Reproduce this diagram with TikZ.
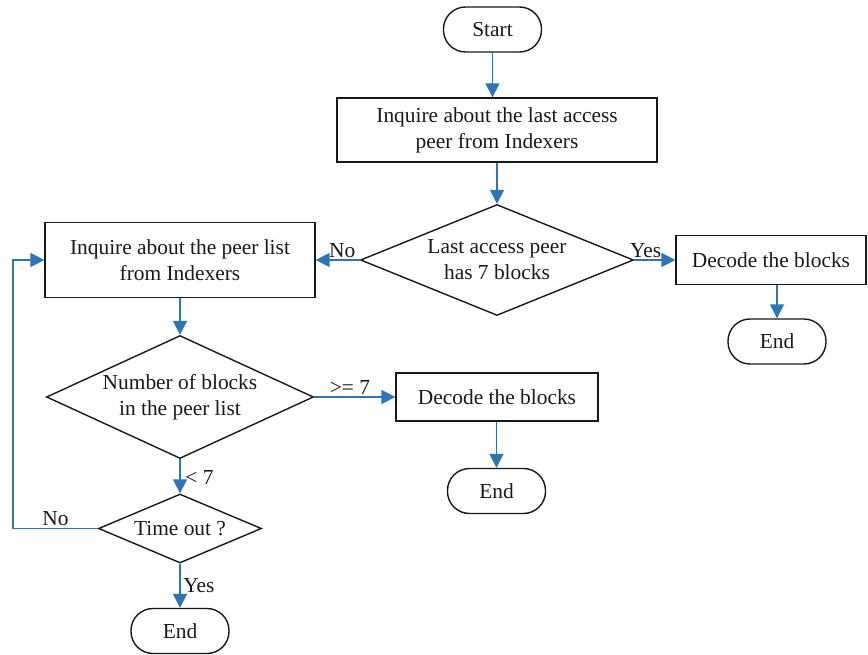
\documentclass[tikz,border=0pt]{standalone}
\usepackage{fontspec}
\setmainfont{Liberation Serif}
\usetikzlibrary{shapes.geometric,arrows.meta}
\definecolor{flowblue}{RGB}{46,117,182}
\definecolor{edgeblack}{RGB}{25,25,25}
\begin{document}
\begin{tikzpicture}[x=1pt,y=-1pt,
  every node/.style={font=\fontsize{21.4}{26}\selectfont, text=edgeblack},
  procbox/.style={draw=edgeblack, line width=1.4pt, rectangle, align=center, inner sep=0pt},
  terminal/.style={draw=edgeblack, line width=1.4pt, rectangle, rounded corners=22pt,
    minimum width=98pt, minimum height=45pt, inner sep=0pt},
  decision/.style={draw=edgeblack, line width=1.4pt, diamond, align=center, inner sep=0pt},
  flow/.style={draw=flowblue, line width=1.8pt,
    -{Triangle[length=14pt,width=14pt]}},
  lbl/.style={inner sep=1.5pt}]
\useasboundingbox (0,0) rectangle (868,655);

% main column
\node[terminal] (start) at (492.5,29.5) {Start};
\node[procbox, minimum width=320pt, minimum height=64pt] (box1) at (497,130)
  {Inquire about the last access\\peer from Indexers};
\node[decision, aspect=2.46, minimum width=273pt, minimum height=111pt] (d1) at (497,260)
  {Last access peer\\has 7 blocks};

% right branch
\node[procbox, minimum width=190pt, minimum height=49pt] (box3) at (771,260)
  {Decode the blocks};
\node[terminal] (end1) at (777,341.5) {End};

% left branch
\node[procbox, minimum width=270pt, minimum height=75pt] (box2) at (180,260)
  {Inquire about the peer list\\from Indexers};
\node[decision, aspect=2.17, minimum width=267pt, minimum height=123pt] (d2) at (180,397)
  {Number of blocks\\in the peer list};
\node[procbox, minimum width=202pt, minimum height=48pt] (box4) at (497,397)
  {Decode the blocks};
\node[terminal] (end2) at (496.5,491) {End};
\node[decision, aspect=2.36, minimum width=163pt, minimum height=69pt] (d3) at (180,528.5)
  {Time out ?};
\node[terminal] (end3) at (180,631) {End};

% retry loop corner
\coordinate (loopA) at (13,528.5);

% connectors
\draw[flow] (start.south) -- (start.south |- box1.north);
\draw[flow] (box1.south) -- (d1.north);
\draw[flow] (d1.west) -- node[lbl, above, pos=0.4] (lno1) {No} (d1.west -| box2.east);
\draw[flow] (d1.east) -- node[lbl, above, pos=0.28] (lyes1) {Yes} (d1.east -| box3.west);
\draw[flow] (end1.north |- box3.south) -- (end1.north);
\draw[flow] (box2.south) -- (d2.north);
\draw[flow] (d2.east) -- node[lbl, above, pos=0.44] (lge) {>= 7} (d2.east -| box4.west);
\draw[flow] (box4.south -| end2.north) -- (end2.north);
\draw[flow] (d2.south) -- node[lbl, right, pos=0.55, xshift=3pt] (llt) {< 7} (d3.north);
\draw[flow] (d3.south) -- node[lbl, right, pos=0.49, xshift=1pt] (lyes2) {Yes} (end3.north);
\draw[flow] (d3.west) -- node[lbl, above, pos=0.5] (lno2) {No} (loopA) |- (box2.west);
\end{tikzpicture}
\end{document}
